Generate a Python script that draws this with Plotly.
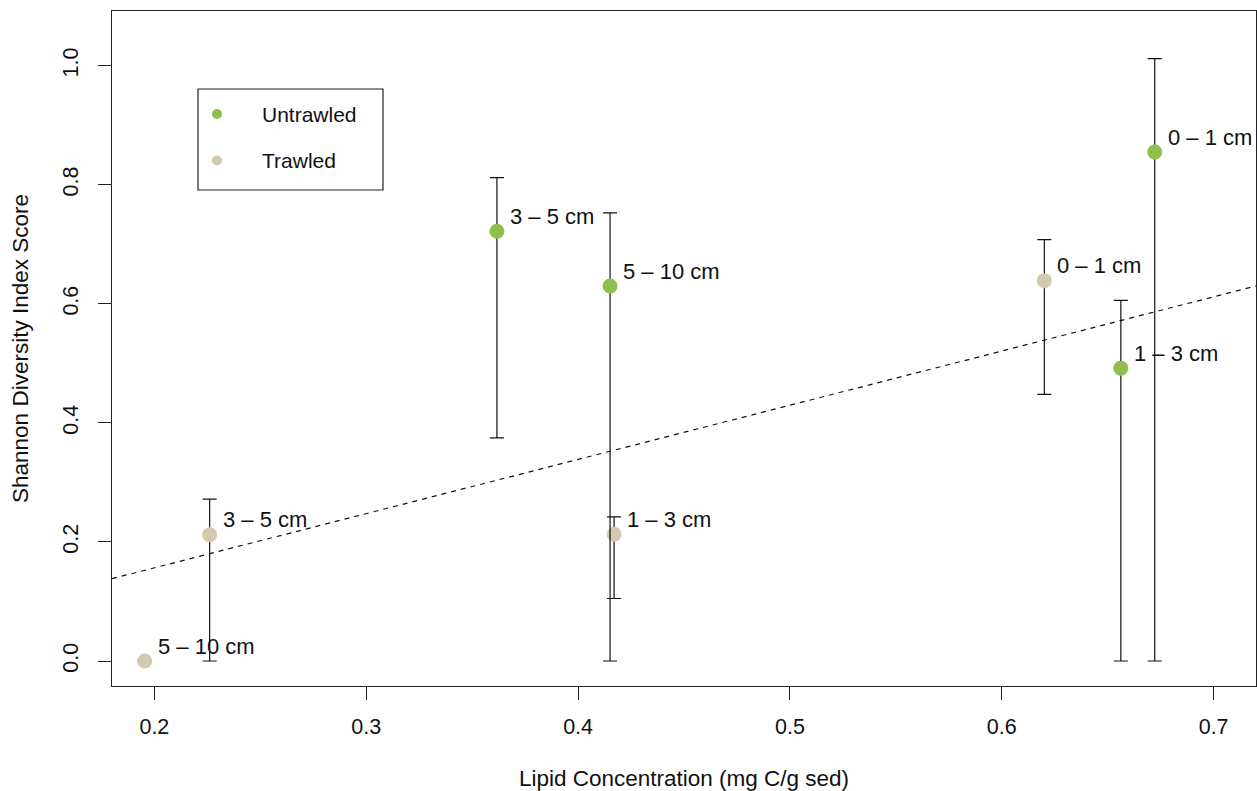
import plotly.graph_objects as go

# ---- data ----
untrawled_x = [0.3617, 0.4151, 0.6722, 0.6562]
untrawled_y = [0.722, 0.630, 0.855, 0.492]
untrawled_err_up = [0.812, 0.753, 1.012, 0.606]
untrawled_err_lo = [0.375, 0.0, 0.0, 0.0]
untrawled_labels = ["3 – 5 cm", "5 – 10 cm", "0 – 1 cm", "1 – 3 cm"]

trawled_x = [0.6201, 0.2261, 0.1954, 0.4170]
trawled_y = [0.639, 0.212, 0.0, 0.213]
trawled_err_up = [0.708, 0.272, 0.0, 0.242]
trawled_err_lo = [0.448, 0.0, 0.0, 0.105]
trawled_labels = ["0 – 1 cm", "3 – 5 cm", "5 – 10 cm", "1 – 3 cm"]

legend_names = ["Untrawled", "Trawled"]

fit_intercept = -0.0256
fit_slope = 0.9106

x_range = [0.18, 0.72]
y_range = [-0.042, 1.092]
x_ticks = [0.2, 0.3, 0.4, 0.5, 0.6, 0.7]
y_ticks = [0.0, 0.2, 0.4, 0.6, 0.8, 1.0]

GREEN = "#8dbf4a"
TAN = "#d2c9ae"
FONT = "Liberation Sans, Arial, Helvetica, sans-serif"
TICK_FS = 21.5
LABEL_FS = 22
TITLE_FS = 22.5
INK = "#111"

# plot area in pixels (for placing the hand-drawn legend box)
W, H = 1257, 791
ML, MR, MT, MB = 112, 1, 11, 105
PW, PH = W - ML - MR, H - MT - MB

def px_x(px):
    return (px - ML) / PW

def px_y(py):
    return (H - MB - py) / PH

fig = go.Figure()

# regression line
fig.add_trace(go.Scatter(
    x=x_range, y=[fit_intercept + fit_slope * v for v in x_range],
    mode="lines", line=dict(color=INK, width=1.2, dash="5px,5px"),
    showlegend=False, hoverinfo="skip"))

def add_group(xs, ys, up, lo, color, name):
    fig.add_trace(go.Scatter(
        x=xs, y=ys, mode="markers", name=name,
        marker=dict(color=color, size=15, line=dict(width=0)),
        error_y=dict(type="data", symmetric=False,
                     array=[u - y for u, y in zip(up, ys)],
                     arrayminus=[y - l for y, l in zip(ys, lo)],
                     color=INK, thickness=1.2, width=7),
        showlegend=False))

add_group(trawled_x, trawled_y, trawled_err_up, trawled_err_lo, TAN, "Trawled")
add_group(untrawled_x, untrawled_y, untrawled_err_up, untrawled_err_lo, GREEN, "Untrawled")

for xs, ys, labs in [(untrawled_x, untrawled_y, untrawled_labels),
                     (trawled_x, trawled_y, trawled_labels)]:
    for x, y, t in zip(xs, ys, labs):
        fig.add_annotation(x=x, y=y, text=t, showarrow=False,
                           xanchor="left", yanchor="middle",
                           xshift=11, yshift=15,
                           font=dict(family=FONT, size=LABEL_FS, color=INK))

# legend box (drawn as in the original base-graphics legend)
fig.add_shape(type="rect", xref="paper", yref="paper",
              x0=px_x(198), x1=px_x(383), y0=px_y(190), y1=px_y(89),
              line=dict(color="#222", width=1.2), fillcolor="white", layer="above")
for i, (name, col) in enumerate(zip(legend_names, [GREEN, TAN])):
    cy = px_y(114 + 46.5 * i)
    fig.add_shape(type="circle", xref="paper", yref="paper",
                  xsizemode="pixel", ysizemode="pixel",
                  xanchor=px_x(217), yanchor=cy,
                  x0=-5, x1=5, y0=-5, y1=5,
                  line=dict(width=0), fillcolor=col, layer="above")
    fig.add_annotation(xref="paper", yref="paper", x=px_x(260), y=cy,
                       text=name, showarrow=False, xanchor="left", yanchor="middle",
                       font=dict(family=FONT, size=LABEL_FS - 1, color=INK))

axis_common = dict(showline=True, linecolor="#222", linewidth=1.2, mirror=True,
                   ticks="outside", ticklen=13, tickwidth=1.2, tickcolor="#222",
                   showgrid=False, zeroline=False,
                   tickfont=dict(family=FONT, size=TICK_FS, color=INK))

fig.update_xaxes(range=x_range, tickvals=x_ticks,
                 ticktext=[f"{v:.1f}" for v in x_ticks],
                 ticklabelstandoff=8,
                 title=dict(text="Lipid Concentration (mg C/g sed)",
                            font=dict(family=FONT, size=TITLE_FS, color=INK),
                            standoff=32),
                 **axis_common)
fig.update_yaxes(range=y_range, tickvals=y_ticks,
                 ticktext=[f"{v:.1f}" for v in y_ticks], tickangle=-90,
                 ticklabelstandoff=11,
                 title=dict(text="Shannon Diversity Index Score",
                            font=dict(family=FONT, size=TITLE_FS, color=INK),
                            standoff=24),
                 **axis_common)

fig.update_layout(
    width=W, height=H,
    margin=dict(l=ML, r=MR, t=MT, b=MB),
    paper_bgcolor="white", plot_bgcolor="white",
    font=dict(family=FONT, size=TICK_FS, color=INK),
    showlegend=False,
)

fig.write_html("out.html")
